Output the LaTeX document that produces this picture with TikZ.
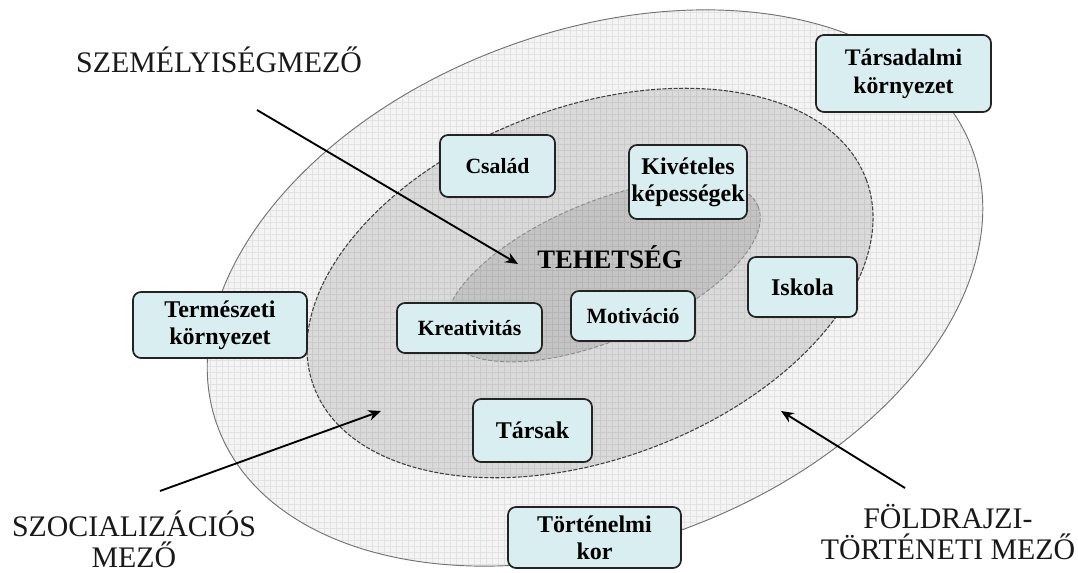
\documentclass[tikz,border=0pt]{standalone}
\usepackage{fontspec}
\setmainfont{Liberation Serif}
\usetikzlibrary{arrows.meta}
\definecolor{boxfill}{RGB}{216,238,241}
\definecolor{outerfill}{RGB}{244,244,244}
\definecolor{midfill}{RGB}{218,218,218}
\definecolor{innerfill}{RGB}{196,196,196}
\definecolor{edge}{RGB}{35,35,35}

\begin{document}
\begin{tikzpicture}[x=0.75pt,y=-0.75pt,
  bx/.style 2 args={draw=edge, line width=1.3pt, fill=boxfill, rounded corners=6pt,
    minimum width=#1*0.75pt, minimum height=#2*0.75pt, inner sep=0pt, align=center,
    font=\fontsize{18}{20}\selectfont\bfseries},
  small/.style={font=\fontsize{16.3}{20}\selectfont\bfseries},
  field/.style={font=\fontsize{22.4}{23.5}\selectfont, align=center, text=black!90},
  pointer/.style={-{Stealth[length=9.5pt,width=8pt]}, line width=1.4pt},
  outerE/.style={rotate around={20.1:(595,288)}},
  midE/.style={rotate around={20.6:(590,283)}},
  innerE/.style={rotate around={22.7:(603,271)}},
]
\useasboundingbox (0,0) rectangle (1078,572);

% nested fields
\fill[outerfill, outerE] (595,288) ellipse [x radius=402, y radius=257];
\fill[midfill, midE] (590,283) ellipse [x radius=295, y radius=176];
\fill[innerfill, innerE] (603,271) ellipse [x radius=168, y radius=69];

% fine grid texture over the fields
\begin{scope}
  \clip[outerE] (595,288) ellipse [x radius=402, y radius=257];
  \draw[black, opacity=0.07, line width=0.35pt, step=4.5pt] (0,572) grid (1078,0);
\end{scope}

% field outlines
\draw[gray!90!black, line width=0.7pt, outerE] (595,288) ellipse [x radius=402, y radius=257];
\draw[black!75, line width=0.8pt, dash pattern=on 3pt off 1.2pt, midE] (590,283) ellipse [x radius=295, y radius=176];
\draw[black!45, line width=0.7pt, dash pattern=on 3pt off 1.5pt, innerE] (603,271) ellipse [x radius=168, y radius=69];

% factor boxes
\node[bx={115}{62}, small] (csalad)  at (497.5,166) {Család};
\node[bx={118}{74}]  (kivet)    at (688,182)   {Kivételes\\képességek};
\node[bx={109}{60}]  (iskola)   at (802.5,287) {Iskola};
\node[bx={124}{50}, small] (motiv)   at (633,316)   {Motiváció};
\node[bx={145}{50}, small] (kreativ) at (469.5,328) {Kreativitás};
\node[bx={174}{66}]  (termesz)  at (220,325)   {Természeti\\környezet};
\node[bx={119}{63}]  (tarsak)   at (532.5,430.5) {Társak};
\node[bx={173}{61}]  (tortkor)  at (594.5,537.5) {Történelmi\\kor};
\node[bx={175}{77}, font=\fontsize{17.8}{21}\selectfont\bfseries] (tarsad) at (903.5,73.5) {Társadalmi\\környezet};

% core
\node[font=\fontsize{20}{24}\selectfont\bfseries] (tehetseg) at (610,257) {TEHETSÉG};

% field labels
\node[field] (szemely) at (219,60)  {SZEMÉLYISÉGMEZŐ};
\node[field] (szocial) at (134,539) {SZOCIALIZÁCIÓS\\MEZŐ};
\node[field] (foldraj) at (948,532) {FÖLDRAJZI-\\TÖRTÉNETI MEZŐ};

% pointers into the fields
\coordinate (a1s) at (257,110); \coordinate (a1e) at (518,264);
\coordinate (a2s) at (160,491); \coordinate (a2e) at (381,411);
\coordinate (a3s) at (905,488); \coordinate (a3e) at (781,411);
\draw[pointer] (a1s) -- (a1e);
\draw[pointer] (a2s) -- (a2e);
\draw[pointer] (a3s) -- (a3e);
\end{tikzpicture}
\end{document}
